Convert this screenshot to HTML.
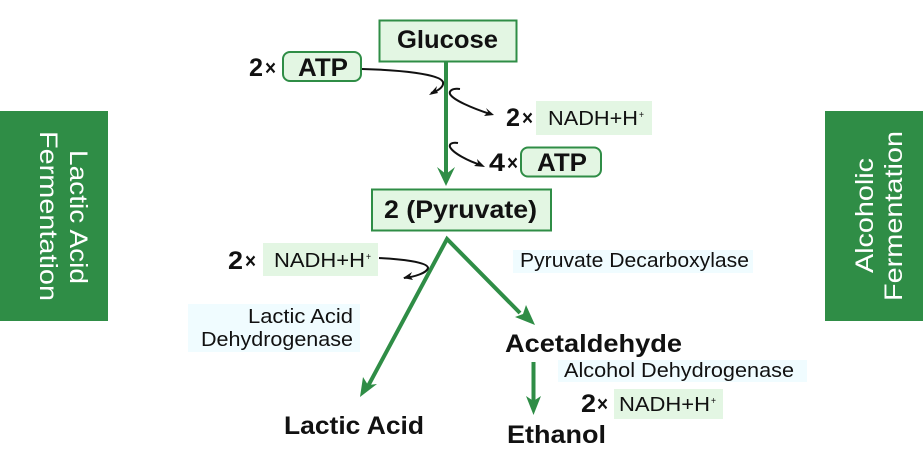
<!DOCTYPE html>
<html>
<head>
<meta charset="utf-8">
<style>
html,body{margin:0;padding:0;background:#fff;}
svg{display:block;}
text{font-family:"Liberation Sans",sans-serif;fill:#111;}
.b{font-weight:bold;font-size:25px;}
.x{font-weight:bold;font-size:21px;}
.n{font-size:20px;}
.w{fill:#fff;font-size:25px;}
</style>
</head>
<body>
<svg width="923" height="470" viewBox="0 0 923 470" xmlns="http://www.w3.org/2000/svg">
<rect x="0" y="0" width="923" height="470" fill="#fff"/>
<!-- side panels -->
<rect x="0" y="111" width="108" height="210" fill="#2f8d46"/>
<rect x="825" y="111" width="98" height="210" fill="#2f8d46"/>
<text class="w" transform="translate(70,150) rotate(90)" textLength="134" lengthAdjust="spacingAndGlyphs">Lactic Acid</text>
<text class="w" transform="translate(40,131) rotate(90)" textLength="170" lengthAdjust="spacingAndGlyphs">Fermentation</text>
<text class="w" transform="translate(873,273) rotate(-90)" textLength="115" lengthAdjust="spacingAndGlyphs">Alcoholic</text>
<text class="w" transform="translate(902,301) rotate(-90)" textLength="170" lengthAdjust="spacingAndGlyphs">Fermentation</text>

<!-- filled label backgrounds -->
<rect x="536" y="101" width="116" height="34" fill="#e3f6e3"/>
<rect x="263" y="243" width="115" height="33" fill="#e3f6e3"/>
<rect x="614" y="389" width="109" height="30" fill="#e3f6e3"/>
<rect x="188" y="304" width="172" height="48" fill="#f0fcff"/>
<rect x="513" y="250" width="240" height="23" fill="#f0fcff"/>
<rect x="558" y="360" width="249" height="22" fill="#f0fcff"/>

<!-- boxes -->
<rect x="379.5" y="20.5" width="137" height="41" fill="#e3f6e3" stroke="#2f8d46" stroke-width="2"/>
<rect x="372" y="189.5" width="179" height="41" fill="#e3f6e3" stroke="#2f8d46" stroke-width="2"/>
<rect x="283" y="52" width="78" height="29" rx="7" fill="#e3f6e3" stroke="#2f8d46" stroke-width="2"/>
<rect x="521" y="147.5" width="80" height="29" rx="7" fill="#e3f6e3" stroke="#2f8d46" stroke-width="2"/>

<!-- green arrows -->
<line x1="446" y1="61" x2="446" y2="176" stroke="#2f8d46" stroke-width="4"/>
<polygon points="437,167 446,174 455,167 446,186" fill="#2f8d46"/>
<polyline points="367,388 447,239 520,313" fill="none" stroke="#2f8d46" stroke-width="4" stroke-linejoin="miter"/>
<polygon points="360,397 363,377 368,385 377,384" fill="#2f8d46"/>
<polygon points="535,325 515,317 523,314 526,305" fill="#2f8d46"/>
<line x1="533.5" y1="362" x2="533.5" y2="404" stroke="#2f8d46" stroke-width="4"/>
<polygon points="526,396 533.5,401 541,396 533.5,415" fill="#2f8d46"/>

<!-- black curved arrows -->
<g fill="none" stroke="#111" stroke-width="2">
<path d="M362,69 C400,70 440,74 443,82 C444,87 438,91 431,93"/>
<path d="M460,89 C452,88 449,91 450,94 C453,100 472,108 490,114"/>
<path d="M458,143 C452,142 449,144 450,147 C453,153 468,161 481,165"/>
<path d="M379,258 C400,259 428,262 428,268 C427,273 414,277 404,278"/>
</g>
<g fill="#111">
<polygon points="429,95 437,86 436,90 438,93"/>
<polygon points="494,115 486,108 488,112 484,116"/>
<polygon points="485,167 477,159 478,163 474,166"/>
<polygon points="403,278 412,272 410,276 413,280"/>
</g>

<!-- labels -->
<text class="b" x="397" y="48" textLength="101" lengthAdjust="spacingAndGlyphs">Glucose</text>
<text class="b" x="249" y="76" textLength="14" lengthAdjust="spacingAndGlyphs">2</text>
<text class="x" x="265" y="75" textLength="11" lengthAdjust="spacingAndGlyphs">×</text>
<text class="b" x="298" y="76" textLength="50" lengthAdjust="spacingAndGlyphs">ATP</text>
<text class="b" x="506" y="126" textLength="14" lengthAdjust="spacingAndGlyphs">2</text>
<text class="x" x="522" y="125" textLength="11" lengthAdjust="spacingAndGlyphs">×</text>
<text class="n" x="548" y="125" textLength="90" lengthAdjust="spacingAndGlyphs">NADH+H</text>
<text x="639" y="118" style="font-size:10px" textLength="5" lengthAdjust="spacingAndGlyphs">+</text>
<text class="b" x="489" y="171" textLength="16" lengthAdjust="spacingAndGlyphs">4</text>
<text class="x" x="507" y="170" textLength="11" lengthAdjust="spacingAndGlyphs">×</text>
<text class="b" x="537" y="171" textLength="50" lengthAdjust="spacingAndGlyphs">ATP</text>
<text class="b" x="384" y="218" textLength="153" lengthAdjust="spacingAndGlyphs">2 (Pyruvate)</text>
<text class="b" x="228" y="269" textLength="15" lengthAdjust="spacingAndGlyphs">2</text>
<text class="x" x="245" y="268" textLength="11" lengthAdjust="spacingAndGlyphs">×</text>
<text class="n" x="274" y="267" textLength="91" lengthAdjust="spacingAndGlyphs">NADH+H</text>
<text x="366" y="260" style="font-size:10px" textLength="5" lengthAdjust="spacingAndGlyphs">+</text>
<text class="n" x="248" y="323" textLength="105" lengthAdjust="spacingAndGlyphs">Lactic Acid</text>
<text class="n" x="201" y="346" textLength="152" lengthAdjust="spacingAndGlyphs">Dehydrogenase</text>
<text class="n" x="520" y="267" textLength="229" lengthAdjust="spacingAndGlyphs">Pyruvate Decarboxylase</text>
<text class="b" x="505" y="352" textLength="177" lengthAdjust="spacingAndGlyphs">Acetaldehyde</text>
<text class="n" x="564" y="377" textLength="230" lengthAdjust="spacingAndGlyphs">Alcohol Dehydrogenase</text>
<text class="b" x="581" y="412" textLength="15" lengthAdjust="spacingAndGlyphs">2</text>
<text class="x" x="597" y="411" textLength="11" lengthAdjust="spacingAndGlyphs">×</text>
<text class="n" x="619" y="411" textLength="91" lengthAdjust="spacingAndGlyphs">NADH+H</text>
<text x="711" y="404" style="font-size:10px" textLength="5" lengthAdjust="spacingAndGlyphs">+</text>
<text class="b" x="507" y="443" textLength="99" lengthAdjust="spacingAndGlyphs">Ethanol</text>
<text class="b" x="284" y="434" textLength="140" lengthAdjust="spacingAndGlyphs">Lactic Acid</text>
</svg>
</body>
</html>
